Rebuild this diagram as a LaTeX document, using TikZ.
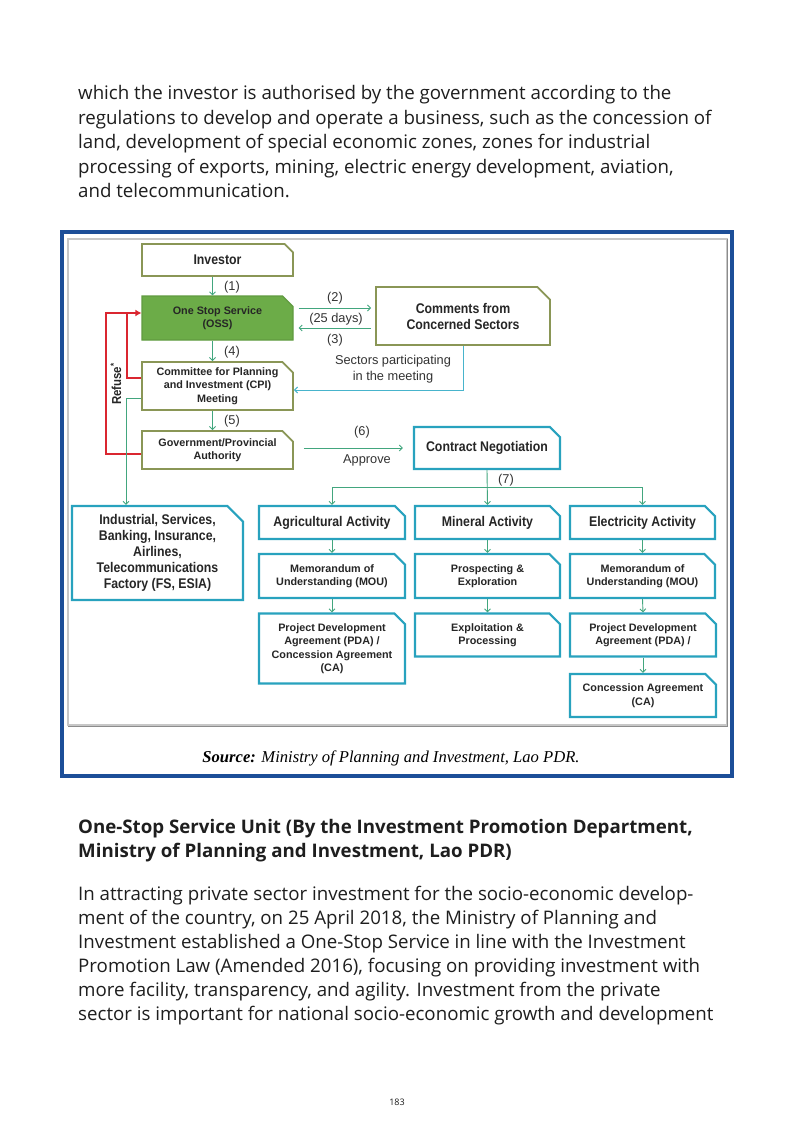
\documentclass[tikz,border=0pt]{standalone}
\usepackage{fontspec}
\setmainfont{Open Sans}
\newfontfamily\dfont[FakeStretch=0.88]{Liberation Sans}
\newfontfamily\dfontn{Liberation Sans}
\newfontfamily\serfont{Liberation Serif}
\usetikzlibrary{shapes.misc,arrows.meta}
\definecolor{txt}{RGB}{30,30,30}
\definecolor{boxolive}{RGB}{138,150,86}
\definecolor{ossgreen}{RGB}{108,172,72}
\definecolor{ossedge}{RGB}{96,155,64}
\definecolor{arrgreen}{RGB}{66,166,126}
\definecolor{boxcyan}{RGB}{40,162,190}
\definecolor{linecyan}{RGB}{72,180,204}
\definecolor{refred}{RGB}{218,38,48}
\definecolor{frameblue}{RGB}{28,78,152}
\tikzset{
  body/.style={anchor=west, inner sep=0pt, text=txt, font=\fontsize{18.7}{22}\selectfont, text height=14pt, text depth=4pt},
  head/.style={body, font=\bfseries\fontsize{18.7}{22}\selectfont},
  cham/.style={chamfered rectangle, chamfered rectangle corners=north east, chamfered rectangle xsep=7pt, inner sep=0pt, align=center, text=black!85},
  obox/.style={cham, draw=boxolive, line width=1.8pt, fill=white},
  cbox/.style={cham, draw=boxcyan, line width=2.2pt, fill=white},
  bigt/.style={font=\dfont\bfseries\fontsize{14}{16}\selectfont},
  smallt/.style={font=\dfontn\bfseries\fontsize{10.8}{13.5}\selectfont},
  lbl/.style={inner sep=0pt, text=black!80, font=\dfontn\fontsize{12.8}{16.5}\selectfont, align=center},
  garr/.style={draw=arrgreen, line width=0.9pt, -{Straight Barb[length=3pt,width=6pt]}},
  carr/.style={draw=linecyan, line width=1pt, -{Straight Barb[length=3pt,width=6pt]}},
  rline/.style={draw=refred, line width=2pt},
}
\begin{document}
\begin{tikzpicture}[x=1pt,y=-1pt]
\useasboundingbox (0,0) rectangle (793,1123);
\fill[white] (0,0) rectangle (793,1123);

% top paragraph
\node[body] (p1) at (78,95) {which the investor is authorised by the government according to the};
\node[body] (p2) at (78,119.5) {regulations to develop and operate a business, such as the concession of};
\node[body] (p3) at (78,144) {land, development of special economic zones, zones for industrial};
\node[body] (p4) at (78,168.5) {processing of exports, mining, electric energy development, aviation,};
\node[body] (p5) at (78,193) {and telecommunication.};

% frame
\draw[frameblue, line width=3.5pt] (62,232) rectangle (732,776);
\draw[black!22, line width=2pt] (68,239) -- (727,239) -- (727,725) -- (68,725) -- cycle;
\draw[black!45, line width=1.2pt] (68,726.5) -- (727.5,726.5) -- (727.5,239);
\node[inner sep=0pt, font=\serfont\itshape\fontsize{16.6}{18}\selectfont, text=black] (src) at (391,758) {\textbf{Source:} Ministry of Planning and Investment, Lao PDR.};

% boxes
\node[obox, minimum width=151pt, minimum height=32pt, bigt] (inv) at (217.5,260) {Investor};
\node[cham, draw=ossedge, line width=1.2pt, fill=ossgreen, minimum width=151pt, minimum height=44pt, smallt] (oss) at (217.5,318) {One Stop Service\\(OSS)};
\node[obox, chamfered rectangle xsep=9pt, minimum width=174pt, minimum height=58pt, bigt] (com) at (463,316) {Comments from\\Concerned Sectors};
\node[obox, minimum width=151pt, minimum height=48pt, smallt] (cpi) at (217.5,386) {Committee for Planning\\and Investment (CPI)\\Meeting};
\node[obox, minimum width=151pt, minimum height=38pt, smallt] (gov) at (217.5,450) {Government/Provincial\\Authority};
\node[cbox, minimum width=146pt, minimum height=42pt, bigt] (con) at (487,448) {Contract Negotiation};
\node[cbox, chamfered rectangle xsep=12pt, minimum width=171pt, minimum height=94pt, font=\dfont\bfseries\fontsize{14}{16}\selectfont] (ind) at (157.5,553) {Industrial, Services,\\Banking, Insurance,\\Airlines,\\Telecommunications\\Factory (FS, ESIA)};
\node[cbox, minimum width=146pt, minimum height=33pt, bigt] (agr) at (332,522.5) {Agricultural Activity};
\node[cbox, minimum width=145pt, minimum height=33pt, bigt] (min) at (487.5,522.5) {Mineral Activity};
\node[cbox, minimum width=145pt, minimum height=33pt, bigt] (ele) at (642.5,522.5) {Electricity Activity};
\node[cbox, minimum width=146pt, minimum height=44pt, smallt] (mou1) at (332,576) {Memorandum of\\Understanding (MOU)};
\node[cbox, minimum width=145pt, minimum height=44pt, smallt] (pro) at (487.5,576) {Prospecting \&\\Exploration};
\node[cbox, minimum width=145pt, minimum height=44pt, smallt] (mou2) at (642.5,576) {Memorandum of\\Understanding (MOU)};
\node[cbox, minimum width=146pt, minimum height=70pt, smallt] (pda1) at (332,648.5) {Project Development\\Agreement (PDA) /\\Concession Agreement\\(CA)};
\node[cbox, minimum width=145pt, minimum height=43pt, smallt] (exp) at (487.5,635) {Exploitation \&\\Processing};
\node[cbox, minimum width=146pt, minimum height=43pt, smallt] (pda2) at (643,635) {Project Development\\Agreement (PDA) /};
\node[cbox, minimum width=146pt, minimum height=43pt, smallt] (ca2) at (643,695.5) {Concession Agreement\\(CA)};

% main flow
\draw[garr] ([xshift=-5pt]inv.south) -- ([xshift=-5pt]oss.north);
\node[lbl] (l1) at (232,287) {(1)};
\draw[garr] ([xshift=-5pt]oss.south) -- ([xshift=-5pt]cpi.north);
\node[lbl] (l4) at (232,352) {(4)};
\draw[garr] ([xshift=-5pt]cpi.south) -- ([xshift=-5pt]gov.north);
\node[lbl] (l5) at (232,421) {(5)};

\draw[garr, shorten <=5pt, shorten >=4pt] (oss.east |- 0,308) -- (com.west |- 0,308);
\draw[garr, shorten <=4pt, shorten >=5pt] (com.west |- 0,328) -- (oss.east |- 0,328);
\node[lbl] (l2) at (335,298) {(2)};
\node[lbl] (l25) at (336,319) {(25 days)};
\node[lbl] (l3) at (335,340) {(3)};

\draw[carr] (com.south) |- (cpi.east |- 0,390);
\node[lbl] (lsec) at (393,369) {Sectors participating\\in the meeting};

\draw[garr, shorten <=10pt, shorten >=10pt] (gov.east |- 0,448) -- (con.west |- 0,448);
\node[lbl] (l6) at (362,432) {(6)};
\node[lbl] (lap) at (367,460) {Approve};

% (7)
\coordinate (hj) at (con.south |- 0,487);
\draw[garr] (con.south) -- (min.north);
\draw[draw=arrgreen, line width=0.9pt] (agr.north |- hj) -- (ele.north |- hj);
\draw[garr] (agr.north |- hj) -- (agr.north);
\draw[garr] (ele.north |- hj) -- (ele.north);
\node[lbl] (l7) at (506,480) {(7)};

% activity columns
\draw[garr] (agr.south) -- (mou1.north);
\draw[garr] (mou1.south) -- (pda1.north);
\draw[garr] (min.south) -- (pro.north);
\draw[garr] (pro.south) -- (exp.north);
\draw[garr] (ele.south) -- (mou2.north);
\draw[garr] (mou2.south) -- (pda2.north);
\draw[garr] (pda2.south) -- (ca2.north);

% refuse
\coordinate (rtop) at (106,313);
\draw[rline, -{Latex[length=6pt,width=7pt]}] (gov.west |- 0,454) -| (rtop) -- (oss.west |- rtop);
\draw[rline] (cpi.west |- 0,378) -| (127,313);
\node[rotate=90, inner sep=0pt, font=\dfont\bfseries\fontsize{13}{14}\selectfont, text=black!85] (ref) at (116,384) {Refuse\textsuperscript{*}};

% green to industrial
\draw[garr] (cpi.west |- 0,398) -| (ind.north -| 126,0);

% bottom section
\node[head] (h1) at (78,828) {One-Stop Service Unit (By the Investment Promotion Department,};
\node[head] (h2) at (78,852) {Ministry of Planning and Investment, Lao PDR)};
\node[body] (q1) at (78,895) {In attracting private sector investment for the socio-economic develop-};
\node[body] (q2) at (78,919) {ment of the country, on 25 April 2018, the Ministry of Planning and};
\node[body] (q3) at (78,943) {Investment established a One-Stop Service in line with the Investment};
\node[body] (q4) at (78,967) {Promotion Law (Amended 2016), focusing on providing investment with};
\node[body] (q5) at (78,991) {more facility, transparency, and agility. Investment from the private};
\node[body] (q6) at (78,1015) {sector is important for national socio-economic growth and development};
\node[inner sep=0pt, text=txt, font=\fontsize{9}{10}\selectfont] (pg) at (397,1102) {183};
\end{tikzpicture}
\end{document}
